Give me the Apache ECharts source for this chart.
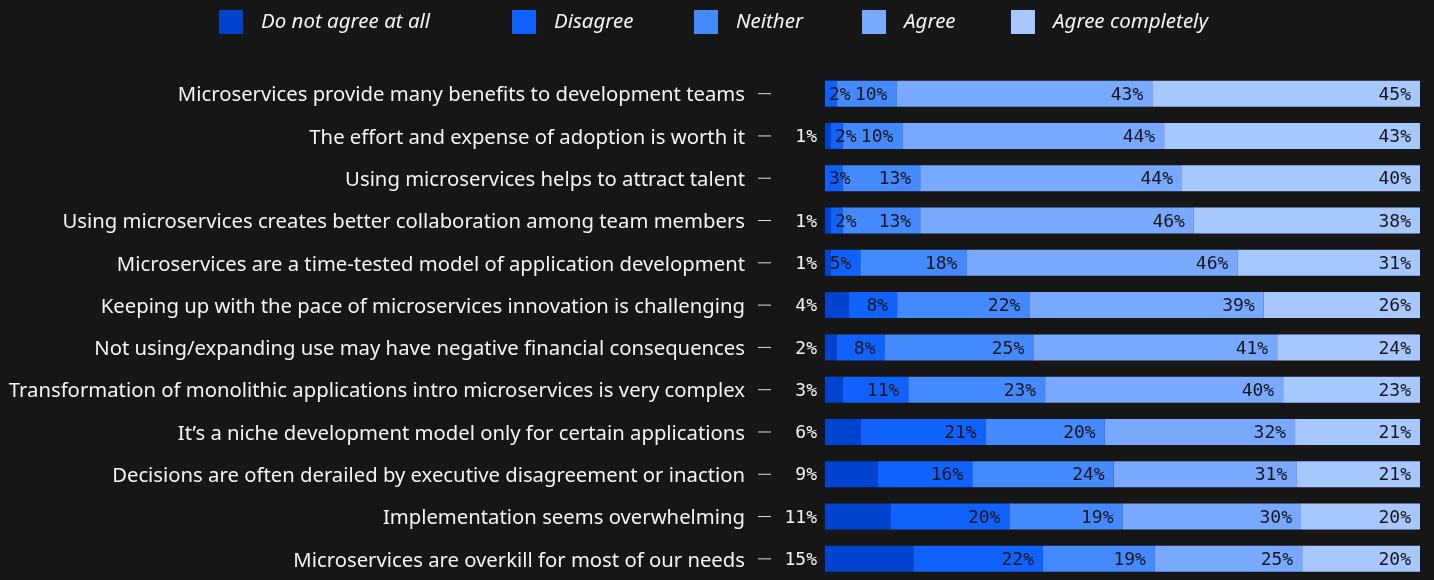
<!DOCTYPE html>
<html>
<head>
<meta charset="utf-8">
<script src="https://cdn.jsdelivr.net/npm/echarts@6/dist/echarts.min.js"></script>
<style>
html,body{margin:0;padding:0;background:#161616;}
#c{width:1434px;height:580px;}
</style>
</head>
<body>
<div id="c"></div>
<script>
const categories = [
  'Microservices provide many benefits to development teams',
  'The effort and expense of adoption is worth it',
  'Using microservices helps to attract talent',
  'Using microservices creates better collaboration among team members',
  'Microservices are a time-tested model of application development',
  'Keeping up with the pace of microservices innovation is challenging',
  'Not using/expanding use may have negative financial consequences',
  'Transformation of monolithic applications intro microservices is very complex',
  'It\u2019s a niche development model only for certain applications',
  'Decisions are often derailed by executive disagreement or inaction',
  'Implementation seems overwhelming',
  'Microservices are overkill for most of our needs'
];
const seriesNames = ['Do not agree at all', 'Disagree', 'Neither', 'Agree', 'Agree completely'];
const doNotAgree      = [0, 1, 0, 1, 1, 4, 2, 3, 6, 9, 11, 15];
const disagree        = [2, 2, 3, 2, 5, 8, 8, 11, 21, 16, 20, 22];
const neither         = [10, 10, 13, 13, 18, 22, 25, 23, 20, 24, 19, 19];
const agree           = [43, 44, 44, 46, 46, 39, 41, 40, 32, 31, 30, 25];
const agreeCompletely = [45, 43, 40, 38, 31, 26, 24, 23, 21, 21, 20, 20];

const values = [doNotAgree, disagree, neither, agree, agreeCompletely];
const colors = ['#0043ce', '#0f62fe', '#4589ff', '#78a9ff', '#a6c8ff'];
const legendLeft = [219, 512, 694, 862, 1011];
const rowSum = categories.map((c, i) => values.reduce((s, arr) => s + arr[i], 0));

const monoFont = '"DejaVu Sans Mono", monospace';
const sansFont = '"Noto Sans", sans-serif';

const series = values.map((arr, si) => ({
  name: seriesNames[si],
  type: 'bar',
  stack: 'total',
  barWidth: 26,
  itemStyle: { color: colors[si] },
  emphasis: { disabled: true },
  data: arr.map((v, i) => {
    const item = { value: v / rowSum[i] * 100, raw: v };
    if (si > 0 && v <= 3) {
      item.label = { position: 'insideLeft', distance: 4 };
    }
    return item;
  }),
  label: {
    show: true,
    position: si === 0 ? 'left' : 'insideRight',
    distance: si === 0 ? 8 : 9,
    offset: [0, 1.5],
    color: si === 0 ? '#f4f4f4' : '#161616',
    fontFamily: monoFont,
    fontSize: 18,
    formatter: p => (p.data.raw > 0 ? p.data.raw + '%' : '')
  }
}));

const legends = seriesNames.map((n, i) => ({
  data: [n],
  left: legendLeft[i],
  top: 10,
  padding: 0,
  itemWidth: 24,
  itemHeight: 24,
  icon: 'rect',
  selectedMode: false,
  textStyle: {
    color: '#f4f4f4',
    fontFamily: sansFont,
    fontStyle: 'italic',
    fontSize: 20.5,
    padding: [0, 0, 0, 13]
  }
}));

const chart = echarts.init(document.getElementById('c'));
chart.setOption({
  backgroundColor: '#161616',
  animation: false,
  legend: legends,
  grid: { left: 825, right: 14, top: 72.5, height: 516 },
  xAxis: { type: 'value', min: 0, max: 100, show: false },
  yAxis: {
    type: 'category',
    data: categories,
    inverse: true,
    axisLine: { show: false },
    axisTick: { show: false },
    axisLabel: {
      margin: 54,
      formatter: v => '{t|' + v + '}{g| }{d| }',
      rich: {
        t: { color: '#f4f4f4', fontFamily: sansFont, fontSize: 20.3, padding: [4, 0, 0, 0] },
        g: { width: 13, fontSize: 10 },
        d: { width: 13, height: 1, fontSize: 1, backgroundColor: '#e0e0e0' }
      }
    }
  },
  series: series
});
</script>
</body>
</html>
